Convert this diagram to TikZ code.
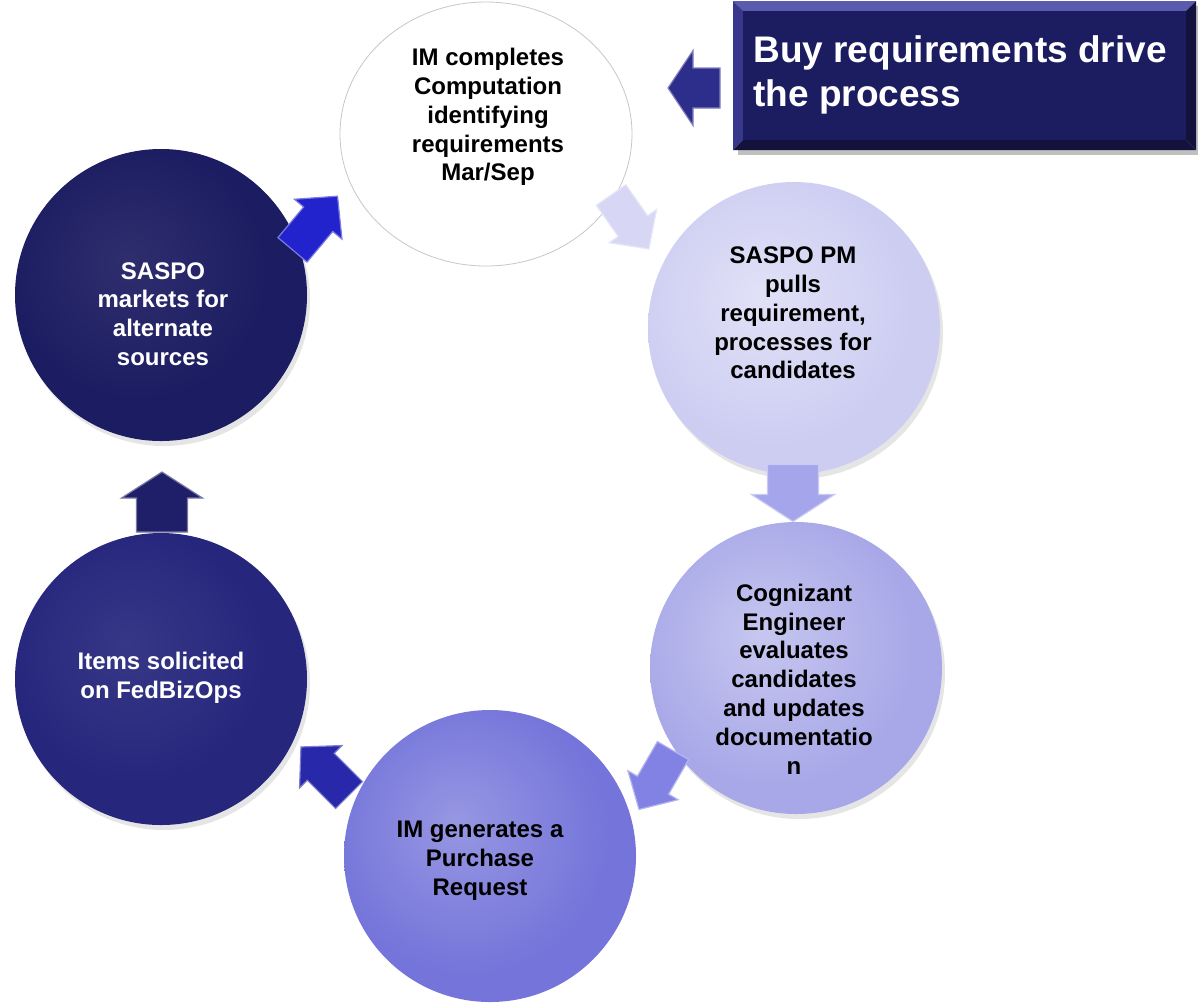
\documentclass[tikz,border=0pt]{standalone}
\usepackage{fontspec}
\setmainfont{Liberation Sans}
\usetikzlibrary{shapes.geometric}
\definecolor{cTop}{RGB}{255,255,255}
\definecolor{cTopRim}{RGB}{218,218,218}
\definecolor{cPM}{RGB}{205,205,242}
\definecolor{cCog}{RGB}{168,168,232}
\definecolor{cIMG}{RGB}{116,116,218}
\definecolor{cItems}{RGB}{38,38,125}
\definecolor{cMkt}{RGB}{28,28,98}
\definecolor{cBox}{RGB}{28,28,96}
\definecolor{cBoxHi}{RGB}{90,90,175}
\definecolor{cBoxMid}{RGB}{55,55,140}
\definecolor{cBoxLo}{RGB}{18,18,60}
\definecolor{aA0}{RGB}{45,45,140}
\definecolor{aA1}{RGB}{35,35,205}
\definecolor{aA2}{RGB}{215,215,245}
\definecolor{aA3}{RGB}{165,165,235}
\definecolor{aA4}{RGB}{130,130,228}
\definecolor{aA5}{RGB}{40,40,170}
\definecolor{aA6}{RGB}{30,30,105}
\pgfdeclareradialshading{shTop}{\pgfpoint{-6bp}{6bp}}{color(0bp)=(white); color(36bp)=(white); color(48bp)=(white!96!black); color(56bp)=(cTopRim); color(62bp)=(cTopRim)}
\pgfdeclareradialshading{shPM}{\pgfpoint{-6bp}{6bp}}{color(0bp)=(cPM!60!white); color(24bp)=(cPM); color(44bp)=(cPM); color(53bp)=(cPM!90!black); color(62bp)=(cPM!82!black)}
\pgfdeclareradialshading{shCog}{\pgfpoint{-6bp}{6bp}}{color(0bp)=(cCog!65!white); color(24bp)=(cCog); color(44bp)=(cCog); color(53bp)=(cCog!90!black); color(62bp)=(cCog!82!black)}
\pgfdeclareradialshading{shIMG}{\pgfpoint{-6bp}{6bp}}{color(0bp)=(cIMG!75!white); color(24bp)=(cIMG); color(44bp)=(cIMG); color(53bp)=(cIMG!90!black); color(62bp)=(cIMG!82!black)}
\pgfdeclareradialshading{shItems}{\pgfpoint{-6bp}{6bp}}{color(0bp)=(cItems!92!white); color(22bp)=(cItems); color(46bp)=(cItems); color(53bp)=(cItems!88!white); color(62bp)=(cItems!80!white)}
\pgfdeclareradialshading{shMkt}{\pgfpoint{-6bp}{6bp}}{color(0bp)=(cMkt!92!white); color(22bp)=(cMkt); color(46bp)=(cMkt); color(53bp)=(cMkt!88!white); color(62bp)=(cMkt!80!white)}
\tikzset{
  circ/.style={circle, minimum size=146pt, inner sep=0pt, shade},
  shadowc/.style={circle, minimum size=146pt, inner sep=0pt, fill=black, fill opacity=0.10},
  lbl/.style={font=\fontsize{12pt}{14.4pt}\selectfont\bfseries, align=center, inner sep=0pt},
  boxtext/.style={font=\fontsize{18.5pt}{22pt}\selectfont\bfseries, align=left, inner sep=0pt, text=white},
  pics/barrow/.style n args={4}{code={
    \path[pic actions] (-#1/2,-#4/2) -- (#1/2-#2,-#4/2) -- (#1/2-#2,-#3/2) -- (#1/2,0)
      -- (#1/2-#2,#3/2) -- (#1/2-#2,#4/2) -- (-#1/2,#4/2) -- cycle;}},
  arr/.style={fill=#1, draw=#1!60!white, line width=0.6pt, line join=miter}
}
\begin{document}
\begin{tikzpicture}[x=0.5pt,y=-0.5pt]
\useasboundingbox (0,0) rectangle (1198,1003);
% circle shadows
\node[shadowc] (s2) at (797,333) {};
\node[shadowc] (s3) at (799,673) {};
\node[shadowc] (s5) at (164,684) {};
\node[shadowc] (s6) at (164,300) {};
% circles
\node[ellipse, minimum width=146pt, minimum height=132pt, inner sep=0pt, shade, shading=shTop, draw=black!22, line width=0.4pt] (c1) at (486,134) {};
\node[circ, shading=shPM] (c2) at (794,328) {};
\node[circ, shading=shCog] (c3) at (796,668) {};
\node[circ, shading=shIMG] (c4) at (490,856) {};
\node[circ, shading=shItems] (c5) at (161,679) {};
\node[circ, shading=shMkt] (c6) at (161,295) {};
% labels
\node[lbl] (t1) at (488,117) {IM completes\\Computation\\identifying\\requirements\\Mar/Sep};
\node[lbl] (t2) at (793,313) {SASPO PM\\pulls\\requirement,\\processes for\\candidates};
\node[lbl] (t3) at (794,679) {Cognizant\\Engineer\\evaluates\\candidates\\and updates\\documentatio\\n};
\node[lbl] (t4) at (480,861) {IM generates a\\Purchase\\Request};
\node[lbl, text=white] (t5) at (161,678) {Items solicited\\on FedBizOps};
\node[lbl, text=white] (t6) at (163,314) {SASPO\\markets for\\alternate\\sources};
% box
\fill[black, opacity=0.25] (738,6) rectangle (1198,155);
\fill[cBoxHi] (733,1) -- (1196,1) -- (1186,11) -- (743,11) -- cycle;
\fill[cBoxMid] (733,1) -- (743,11) -- (743,140) -- (733,150) -- cycle;
\fill[cBoxLo] (1196,1) -- (1196,150) -- (1186,140) -- (1186,11) -- cycle;
\fill[cBoxLo] (733,150) -- (1196,150) -- (1186,140) -- (743,140) -- cycle;
\fill[cBox] (743,11) rectangle (1186,140);
\node[boxtext, anchor=north west] (buy) at (753,35) {Buy requirements drive\\the process};
% arrows
\pic[arr=aA0, rotate=180] (a0) at (694,88) {barrow={52}{25}{75}{40}};
\pic[arr=aA1, rotate=50] (a1) at (315,223) {barrow={70}{30}{62}{38}};
\pic[arr=aA2, rotate=-55] (a2) at (630,222) {barrow={66}{28}{58}{36}};
\pic[arr=aA3, rotate=-90] (a3) at (793,493) {barrow={57}{27}{83}{51}};
\pic[arr=aA4, rotate=-120] (a4) at (656,780) {barrow={68}{28}{58}{36}};
\pic[arr=aA5, rotate=135] (a5) at (325,771) {barrow={68}{28}{60}{38}};
\pic[arr=aA6, rotate=90] (a6) at (162,502) {barrow={60}{26}{81}{51}};
\end{tikzpicture}
\end{document}
